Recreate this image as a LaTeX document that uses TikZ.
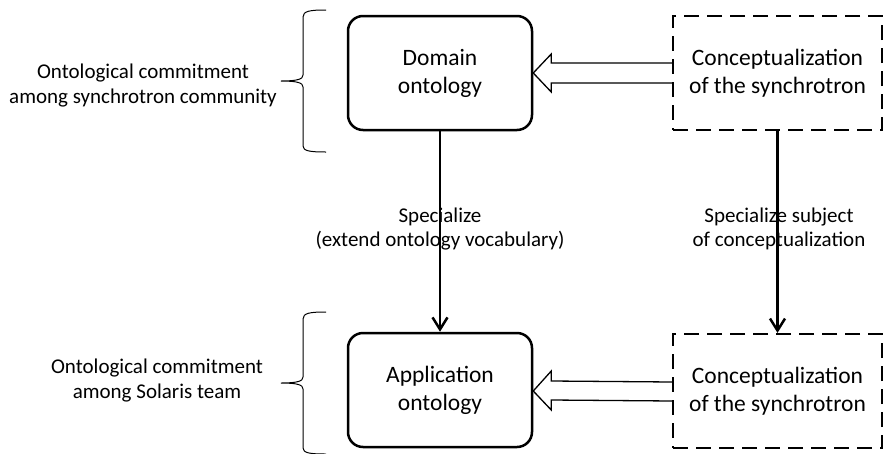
\documentclass[tikz,border=0pt]{standalone}
\usepackage{fontspec}
\setmainfont{Carlito}
\usetikzlibrary{arrows.meta,calc}
\begin{document}
\begin{tikzpicture}[x=1pt,y=-1pt,
  boxbase/.style={minimum width=184pt,minimum height=114pt,inner sep=0pt,align=center,
    font=\fontsize{23.5}{28}\selectfont},
  solidbox/.style={boxbase,draw,line width=2.5pt,rounded corners=15pt},
  dashbox/.style={boxbase,draw,line width=2.2pt,dash pattern=on 15pt off 8pt,minimum width=209pt},
  sidetext/.style={align=center,font=\fontsize{21}{25}\selectfont},
  midtext/.style={align=center,font=\fontsize{21}{24}\selectfont},
  vline/.style={line width=2.5pt,-{Straight Barb[length=12pt,width=15pt,line width=2.5pt]}},
  hollow/.style={draw,line width=1.3pt,fill=white,line join=miter},
  bracestyle/.style={line width=1pt}
]
\useasboundingbox (0,0) rectangle (884,453);
\node[solidbox] (dom) at (440,73) {Domain\\ontology};
\node[dashbox] (c1) at (777.5,73) {Conceptualization\\of the synchrotron};
\node[solidbox] (app) at (440,390) {Application\\ontology};
\node[dashbox] (c2) at (777.5,391) {Conceptualization\\of the synchrotron};

\node[sidetext] (t1) at (143,86) {Ontological commitment\\among synchrotron community};
\node[sidetext] (t2) at (157,381) {Ontological commitment\\among Solaris team};

\draw[vline] (dom.south) -- (app.north);
\draw[vline] (c1.south) -- (c2.north);

\node[midtext] (l1) at (440,229) {Specialize\\(extend ontology vocabulary)};
\node[midtext] (l2) at (779,229) {Specialize subject\\of conceptualization};

% hollow arrows
\draw[hollow] ($(c1.west)+(0,-10)$) -- ($(dom.east)+(18,-10)$) -- ($(dom.east)+(18,-19)$)
  -- (dom.east) -- ($(dom.east)+(18,19)$) -- ($(dom.east)+(18,10)$) -- ($(c1.west)+(0,10)$);
\draw[hollow] ($(c2.west)+(0,-9)$) -- ($(app.east)+(18,-9)$) -- ($(app.east)+(18,-19)$)
  -- ($(app.east)+(0,1)$) -- ($(app.east)+(18,20)$) -- ($(app.east)+(18,10)$) -- ($(c2.west)+(0,10)$);

% braces
\coordinate (b1tip) at (281,81);
\draw[bracestyle] (326,10) .. controls (310,10) and (303,11) .. (303,17) -- (303,75)
  .. controls (303,79) and (298,81) .. (b1tip) .. controls (298,81) and (303,83) .. (303,87)
  -- (303,146) .. controls (303,151) and (310,152) .. (326,152);
\coordinate (b2tip) at (281,383);
\draw[bracestyle] (326,312) .. controls (310,312) and (303,313) .. (303,319) -- (303,377)
  .. controls (303,381) and (298,383) .. (b2tip) .. controls (298,383) and (303,385) .. (303,389)
  -- (303,448) .. controls (303,453) and (310,454) .. (326,454);
\end{tikzpicture}
\end{document}
